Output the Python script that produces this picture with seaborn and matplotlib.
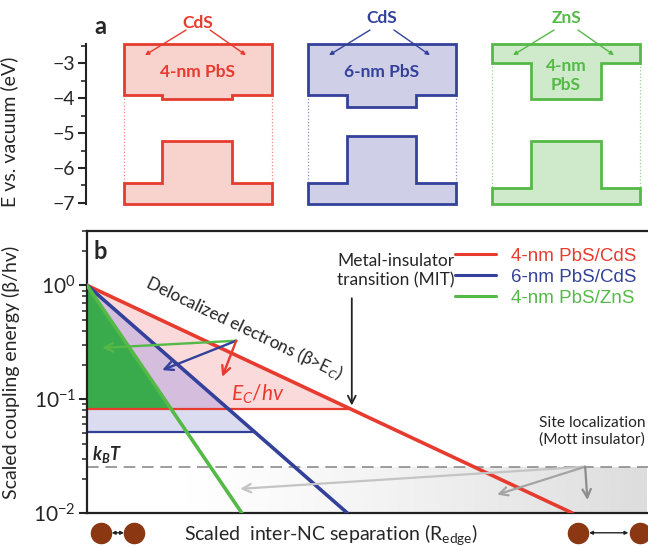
import numpy as np
import pandas as pd
import matplotlib
matplotlib.use("Agg")
import matplotlib.pyplot as plt
import seaborn as sns

#%% data
# panel a: band edges (eV vs. vacuum) for the three core/shell NCs
core_labels = ["4-nm PbS", "6-nm PbS", "4-nm\nPbS"]
shell_labels = ["CdS", "CdS", "ZnS"]
e_top = -2.45
e_bottom = -7.03
shell_cb = [-3.91, -3.91, -3.00]
core_cb = [-4.03, -4.26, -4.03]
core_vb = [-5.23, -5.09, -5.23]
shell_vb = [-6.43, -6.43, -6.57]

# panel b: scaled coupling energy vs scaled separation (straight lines on log scale)
series = ["4-nm PbS/CdS", "6-nm PbS/CdS", "4-nm PbS/ZnS"]
beta_start = [1.0, 1.0, 1.0]
beta_end = [0.01, 0.01, 0.01]
r_end = [0.865, 0.464, 0.276]
ec_levels = [0.082, 0.051]      # E_C/hv for 4-nm and 6-nm PbS
kbt = 0.0256

edge_cols = ["#e63b2e", "#34419b", "#55b947"]
fill_cols = ["#f8d2cd", "#cfd0e8", "#cfeaca"]
brown = "#8b3812"

sns.set_theme(style="ticks")
plt.rcParams["font.family"] = ["Lato", "DejaVu Sans"]
plt.rcParams["mathtext.fontset"] = "custom"
plt.rcParams["mathtext.rm"] = "Lato"
plt.rcParams["mathtext.it"] = "Lato:italic"
plt.rcParams["mathtext.bf"] = "Lato:bold"
plt.rcParams["mathtext.bfit"] = "Lato:italic:bold"

fig = plt.figure(figsize=(6.48, 5.46), dpi=100)

#%% panel a
axa = fig.add_axes([86 / 648, (546 - 204) / 546, 562 / 648, 160 / 546])
axa.set_xlim(86, 648)
axa.set_ylim(-7.03, -2.45)
for s in ["top", "right", "bottom"]:
    axa.spines[s].set_visible(False)
axa.spines["left"].set_linewidth(1.5)
axa.spines["left"].set_color("#222222")
axa.set_xticks([])
axa.set_yticks([-7, -6, -5, -4, -3])
axa.set_yticks(np.arange(-6.5, -2.4, 1.0), minor=True)
axa.tick_params(axis="y", which="major", length=6, width=1.5, labelsize=14, pad=2)
axa.tick_params(axis="y", which="minor", length=3.5, width=1.2)
axa.set_ylabel("E vs. vacuum (eV)", fontsize=14)
axa.yaxis.set_label_coords(-0.12, 0.45)

box_left = [124, 308, 492]
box_w = 148
inner_off = [38, 39, 39]
inner_w = [70, 69, 70]
for i in range(3):
    L, R = box_left[i], box_left[i] + box_w
    iL, iR = L + inner_off[i], L + inner_off[i] + inner_w[i]
    cb = [(L, e_top), (R, e_top), (R, shell_cb[i]), (iR, shell_cb[i]),
          (iR, core_cb[i]), (iL, core_cb[i]), (iL, shell_cb[i]), (L, shell_cb[i])]
    vb = [(L, e_bottom), (R, e_bottom), (R, shell_vb[i]), (iR, shell_vb[i]),
          (iR, core_vb[i]), (iL, core_vb[i]), (iL, shell_vb[i]), (L, shell_vb[i])]
    for poly in (cb, vb):
        axa.add_patch(plt.Polygon(poly, closed=True, facecolor=fill_cols[i],
                                  edgecolor=edge_cols[i], lw=2, clip_on=False))
    for xx in (L, R):
        axa.plot([xx, xx], [shell_cb[i], shell_vb[i]], ls=":", lw=0.9,
                 color=edge_cols[i], alpha=0.6)
    cx = (L + R) / 2
    axa.text(cx, -1.85 if i == 0 else -1.72, shell_labels[i], color=edge_cols[i],
             fontsize=12.5, fontweight="bold", ha="center", va="center", clip_on=False)
    axa.text(cx, -3.25 if i < 2 else -3.35, core_labels[i], color=edge_cols[i],
             fontsize=12.5, fontweight="bold", ha="center", va="center",
             linespacing=1.2)
    for sx, tx in ((cx - 12, L + 21), (cx + 12, R - 26)):
        axa.annotate("", xy=(tx, -2.77), xytext=(sx, -2.05),
                     arrowprops=dict(arrowstyle="-|>", color=edge_cols[i], lw=1,
                                     mutation_scale=6, shrinkA=0, shrinkB=0),
                     annotation_clip=False)

axa.text(100, -1.95, "a", fontsize=17, fontweight="bold", ha="center", va="center",
         clip_on=False)

#%% panel b
axb = fig.add_axes([87 / 648, 33 / 546, 561 / 648, 282 / 546])
axb.set_yscale("log")

rows = []
for name, b0, b1, r1 in zip(series, beta_start, beta_end, r_end):
    rows.append({"sample": name, "r": 0.0, "beta": b0})
    rows.append({"sample": name, "r": r1, "beta": b1})
df = pd.DataFrame(rows)


def beta_line(i, x):
    lb0, lb1 = np.log10(beta_start[i]), np.log10(beta_end[i])
    return 10 ** (lb0 + (lb1 - lb0) * x / r_end[i])


def cross(i, level):
    lb0, lb1 = np.log10(beta_start[i]), np.log10(beta_end[i])
    return r_end[i] * (np.log10(level) - lb0) / (lb1 - lb0)


x = np.linspace(0, 1, 800)
b_red, b_blue, b_green = beta_line(0, x), beta_line(1, x), beta_line(2, x)
ec_r, ec_b = ec_levels

axb.fill_between(x, ec_r, b_red, where=b_red > ec_r, interpolate=True,
                 color="#fadada", lw=0, zorder=1)
axb.fill_between(x, ec_r, b_blue, where=b_blue > ec_r, interpolate=True,
                 color="#d4bddd", lw=0, zorder=1.1)
axb.fill_between(x, ec_b, np.minimum(b_blue, ec_r), where=b_blue > ec_b,
                 interpolate=True, color="#dcdcf0", lw=0, zorder=1.1)
axb.fill_between(x, ec_r, b_green, where=b_green > ec_r, interpolate=True,
                 color="#3aab4c", lw=0, zorder=1.2)

# grey gradient for the localized (Mott) region below k_BT
grad = np.zeros((2, 256, 4))
grad[..., :3] = 0.6
grad[..., 3] = np.linspace(0, 1, 256) ** 1.3 * 0.34
axb.imshow(grad, extent=(0.15, 1.0, 0.01, kbt), aspect="auto", origin="lower",
           zorder=0.5, interpolation="bilinear")

axb.axhline(kbt, color="#8c8c8c", lw=1.2, dashes=(7, 4), zorder=2)
axb.plot([0, cross(0, ec_r)], [ec_r, ec_r], color=edge_cols[0], lw=1.6, zorder=2.5)
axb.plot([0, cross(1, ec_b)], [ec_b, ec_b], color=edge_cols[1], lw=1.6, zorder=2.5)

sns.lineplot(data=df, x="r", y="beta", hue="sample", palette=edge_cols, lw=2.6,
             sort=False, ax=axb, zorder=3)
axb.set_yscale("log")
axb.set_xlim(0, 1)
axb.set_ylim(0.01, 3.0)

leg = axb.legend(frameon=False, loc="upper right", bbox_to_anchor=(1.01, 1.0),
                 labelcolor="linecolor", handlelength=2.2,
                 handletextpad=0.8, labelspacing=0.2,
                 prop={"family": ["Liberation Sans", "DejaVu Sans"], "size": 13.5})
for h in leg.get_lines():
    h.set_linewidth(2.2)

axb.spines["right"].set_visible(False)
for s in ["top", "left", "bottom"]:
    axb.spines[s].set_linewidth(1.6)
    axb.spines[s].set_color("#222222")
axb.set_xticks([])
axb.tick_params(axis="y", which="major", length=6, width=1.5, labelsize=15, pad=2)
axb.tick_params(axis="y", which="minor", length=3.5, width=1.1)
axb.set_xlabel("Scaled  inter-NC separation (R$_{\\mathrm{edge}}$)", fontsize=14,
               va="center")
axb.xaxis.set_label_coords(0.435, -0.076)
axb.set_ylabel("Scaled coupling energy (\u03b2/hv)", fontsize=14)
axb.yaxis.set_label_coords(-0.12, 0.5)

axb.text(0.023, 2.0, "b", fontsize=17, fontweight="bold", ha="center", va="center")
axb.text(0.28, 0.42, "Delocalized electrons (\u03b2>E$_C$)", rotation=-25.5,
         fontsize=12.5, ha="center", va="center", rotation_mode="anchor", zorder=5)
axb.text(0.305, 0.111, "$E_C$/$hv$", color=edge_cols[0], fontsize=15,
         ha="center", va="center", zorder=5)
axb.text(0.035, 0.0325, "$\\mathbfit{k_BT}$", fontsize=13, ha="center",
         va="center", zorder=5)
axb.text(0.55, 1.35, "Metal-insulator\ntransition (MIT)", fontsize=12.5,
         ha="center", va="center", linespacing=1.25, zorder=5)
axb.annotate("", xy=(0.472, 0.088), xytext=(0.472, 0.77),
             arrowprops=dict(arrowstyle="->", color="#222222", lw=1.3,
                             mutation_scale=14, shrinkA=0, shrinkB=0), zorder=5)
axb.text(0.9, 0.052, "Site localization\n(Mott insulator)", fontsize=11.2,
         ha="center", va="center", linespacing=1.25, zorder=5)

# arrows showing the effect of size/shell
src = (0.266, 0.326)
for tgt, col in (((0.027, 0.282), edge_cols[2]), ((0.134, 0.18), edge_cols[1]),
                 ((0.241, 0.157), edge_cols[0])):
    axb.annotate("", xy=tgt, xytext=src,
                 arrowprops=dict(arrowstyle="->", color=col, lw=1.7,
                                 mutation_scale=15, shrinkA=0, shrinkB=0), zorder=4)

src2 = (0.888, 0.0255)
for tgt, col in (((0.273, 0.0163), "#c4c4c4"), ((0.731, 0.0145), "#a4a4a4"),
                 ((0.892, 0.0130), "#8c8c8c")):
    axb.annotate("", xy=tgt, xytext=src2,
                 arrowprops=dict(arrowstyle="->", color=col, lw=1.6,
                                 mutation_scale=15, shrinkA=0, shrinkB=0), zorder=4)

# NC pairs below the axis
yb = 0.0067
axb.plot([0.025, 0.084], [yb, yb], "o", ms=14.5, color=brown, clip_on=False, zorder=6)
axb.plot([0.875, 0.985], [yb, yb], "o", ms=14.5, color=brown, clip_on=False, zorder=6)
for xa, xb in ((0.044, 0.066), (0.895, 0.965)):
    axb.annotate("", xy=(xb, yb), xytext=(xa, yb),
                 arrowprops=dict(arrowstyle="<|-|>", color="#222222", lw=1,
                                 mutation_scale=5, shrinkA=0, shrinkB=0),
                 annotation_clip=False)

fig.savefig("out.png", dpi=100)
